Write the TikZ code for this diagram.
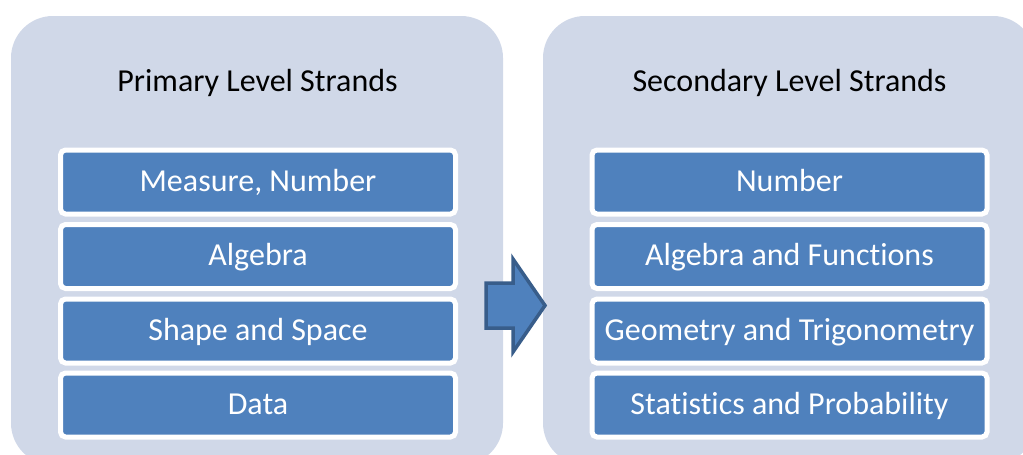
\documentclass[tikz,border=0pt]{standalone}
\usepackage{fontspec}
\setmainfont[Ligatures=NoCommon]{Carlito}
\definecolor{panelbg}{HTML}{D0D8E8}
\definecolor{boxblue}{HTML}{4F81BD}
\definecolor{arrowedge}{HTML}{385D8A}
\begin{document}
\begin{tikzpicture}[x=1pt,y=-1pt,
  panel/.style={fill=panelbg,draw=none,rounded corners=42pt},
  strand/.style={draw=white,line width=5pt,fill=boxblue,rounded corners=5pt,
    minimum width=395pt,minimum height=64pt,inner sep=0pt,text=white,
    text height=22.5pt,text depth=4.5pt,
    font=\fontsize{32}{38}\selectfont},
  title/.style={text=black,font=\fontsize{32}{38}\selectfont,inner sep=0pt},
  bigarrow/.style={fill=boxblue,draw=arrowedge,line width=3.5pt,line join=miter}]
\useasboundingbox (0,0) rectangle (1023,455);
\clip (0,0) rectangle (1023,455);
\fill[white] (0,0) rectangle (1023,455);
\path[panel] (11,16) rectangle (503,465);
\path[panel] (543,16) rectangle (1035,465);
\node[title] (t1) at (257.5,83) {Primary Level Strands};
\node[title] (t2) at (789.5,83) {Secondary Level Strands};
\node[strand] (a1) at (258,182) {Measure, Number};
\node[strand] (a2) at (258,256.5) {Algebra};
\node[strand] (a3) at (258,331) {Shape and Space};
\node[strand] (a4) at (258,405) {Data};
\node[strand] (b1) at (789.5,182) {Number};
\node[strand] (b2) at (789.5,256.5) {Algebra and Functions};
\node[strand] (b3) at (789.5,331) {Geometry and Trigonometry};
\node[strand] (b4) at (789.5,405) {Statistics and Probability};
\draw[bigarrow] (486,283) -- (513,283) -- (513,259) -- (545,305.5) -- (513,352) -- (513,328) -- (486,328) -- cycle;
\end{tikzpicture}
\end{document}
